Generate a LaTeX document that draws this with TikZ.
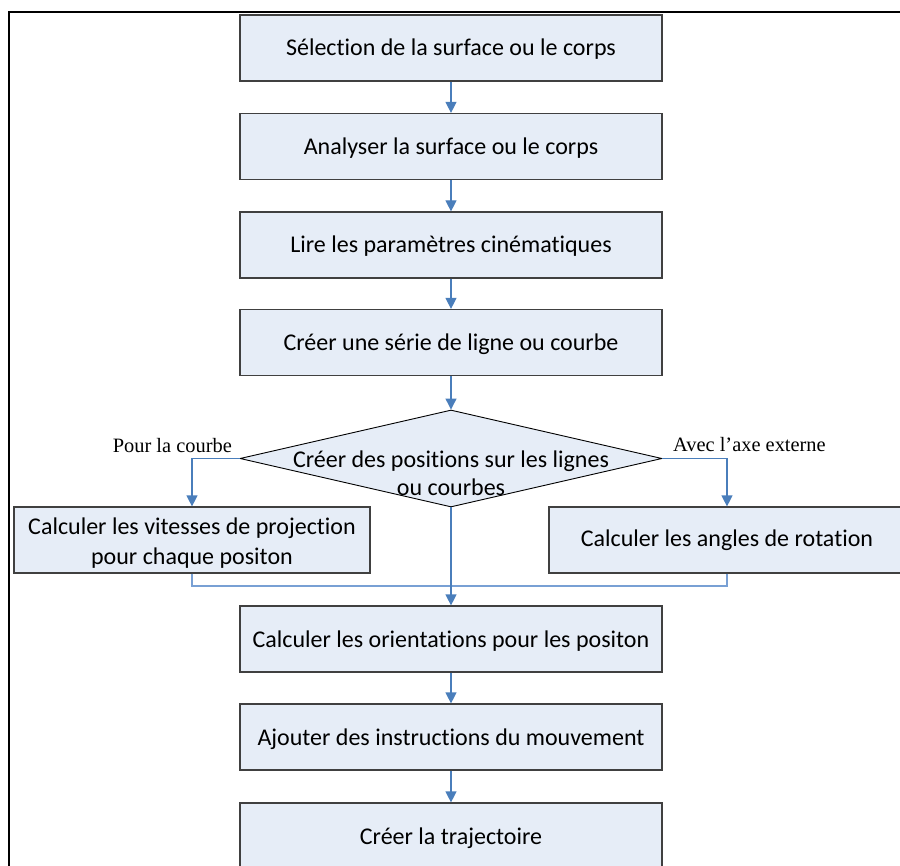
\documentclass[tikz,border=0pt]{standalone}
\usepackage{fontspec}
\setmainfont[Ligatures=NoCommon]{Carlito}
\newfontfamily\tms{Liberation Serif}
\usetikzlibrary{arrows.meta,shapes.geometric}
\definecolor{boxfill}{RGB}{230,237,247}
\definecolor{boxline}{RGB}{64,64,64}
\definecolor{arr}{RGB}{74,126,187}
\definecolor{arrlight}{RGB}{120,160,212}
\begin{document}
\begin{tikzpicture}[x=1pt,y=-1pt,
  stepbox/.style={draw=boxline, fill=boxfill, line width=1.2pt, minimum width=422pt, minimum height=66pt, inner sep=0pt, font=\fontsize{24}{29}\selectfont, text height=20pt, text depth=4pt},
  sidebox/.style={draw=boxline, fill=boxfill, line width=1.2pt, minimum width=356pt, minimum height=66pt, inner sep=0pt, font=\fontsize{24}{29.5}\selectfont, align=center},
  conn/.style={draw=arr, line width=1.2pt, -{Triangle[width=11pt,length=11pt]}},
  merge/.style={draw=arrlight, line width=1.2pt},
  lbl/.style={font=\tms\fontsize{20.4}{24}\selectfont, inner sep=0pt}]
\useasboundingbox (0,0) rectangle (900,866);
\draw[line width=2.8pt] (9,12) rectangle (915,900);

\node[stepbox] (b1) at (451,48) {Sélection de la surface ou le corps};
\node[stepbox] (b2) at (451,146.5) {Analyser la surface ou le corps};
\node[stepbox] (b3) at (451,245) {Lire les paramètres cinématiques};
\node[stepbox] (b4) at (451,342.5) {Créer une série de ligne ou courbe};
\node[diamond, draw=black, fill=boxfill, line width=0.9pt, minimum width=422pt, minimum height=97pt, inner sep=0pt] (dec) at (451,458.5) {};
\node[font=\fontsize{24}{28.5}\selectfont, align=center, inner sep=0pt] (dect) at (451,473.5) {Créer des positions sur les lignes\\ou courbes};
\node[sidebox] (lb) at (192,540) {};
\node[font=\fontsize{24}{29.5}\selectfont, align=center, inner sep=0pt] (lbt) at (192,543) {Calculer les vitesses de projection\\pour chaque positon};
\node[sidebox] (rb) at (727,540) {Calculer les angles de rotation};
\node[stepbox] (b5) at (451,639) {Calculer les orientations pour les positon};
\node[stepbox] (b6) at (451,737) {Ajouter des instructions du mouvement};
\node[stepbox] (b7) at (451,836) {Créer la trajectoire};

\node[lbl, anchor=base east] (l1) at (232,453) {Pour la courbe};
\node[lbl, anchor=base west] (l2) at (673,452) {Avec l’axe externe};

\coordinate (m) at (451,586);

\draw[conn] (b1.south) -- (b2.north);
\draw[conn] (b2.south) -- (b3.north);
\draw[conn] (b3.south) -- (b4.north);
\draw[conn] (b4.south) -- (dec.north);
\draw[conn] (dec.west) -| (lb.north);
\draw[conn] (dec.east) -| (rb.north);
\draw[merge] (lb.south) |- (m);
\draw[merge] (rb.south) |- (m);
\draw[conn] (dec.south) -- (b5.north);
\draw[conn] (b5.south) -- (b6.north);
\draw[conn] (b6.south) -- (b7.north);
\end{tikzpicture}
\end{document}
